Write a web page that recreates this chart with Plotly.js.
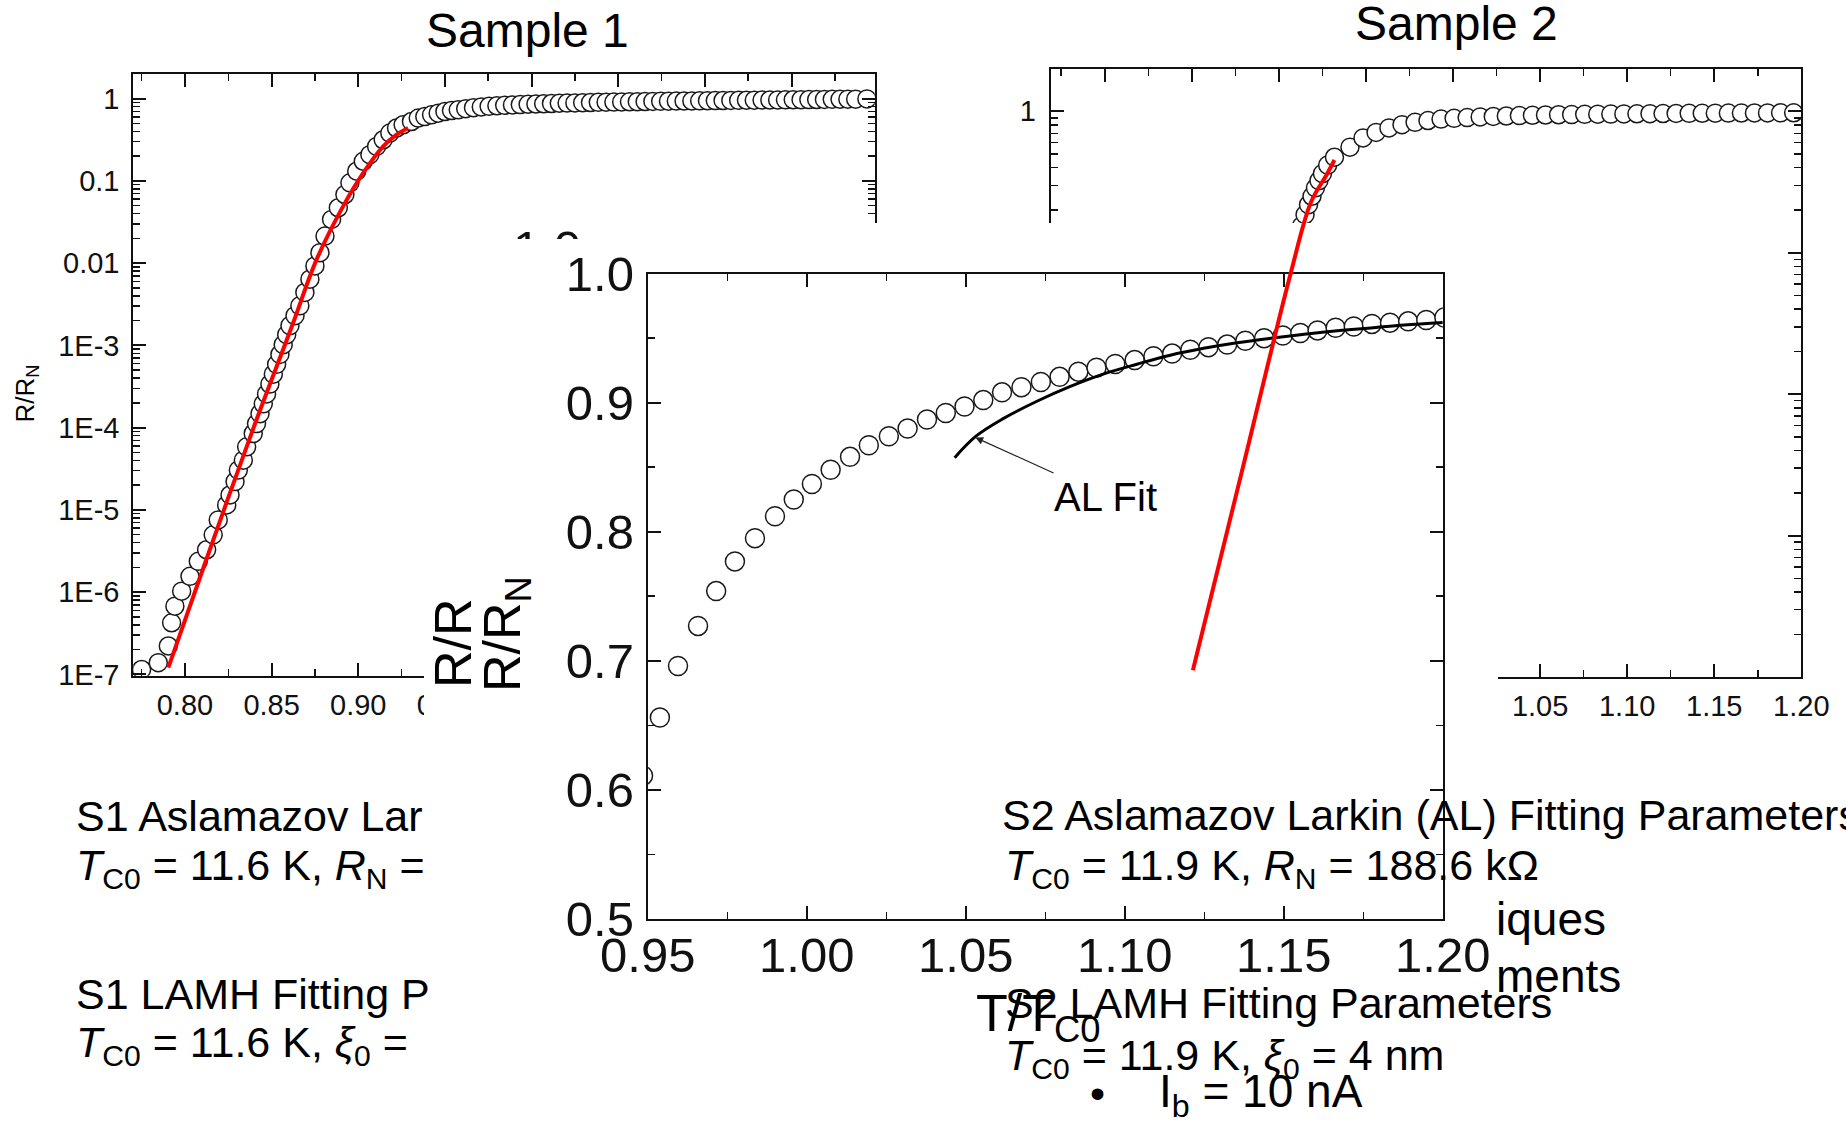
<!DOCTYPE html>
<html>
<head>
<meta charset="utf-8">
<script src="https://cdn.plot.ly/plotly-3.0.1.min.js"></script>
<style>
html,body{margin:0;padding:0;background:#ffffff;}
#chart{width:1846px;height:1122px;}
</style>
</head>
<body>
<div id="chart"></div>
<script>
// ---------------- data ----------------
// Sample 1 : R/RN vs T/TC0 (log scale)
const s1T = [0.7750,0.7846,0.7904,0.7923,0.7942,0.7981,0.8029,0.8077,0.8125,0.8163,0.8192,0.8241,0.8260,0.8289,0.8308,0.8337,0.8356,0.8394,
  0.8413,0.8433,0.8452,0.8471,0.8490,0.8510,0.8529,0.8548,0.8567,0.8587,0.8606,0.8635,0.8663,0.8692,0.8721,0.8750,0.8779,0.8808,0.8846,0.8885,
  0.8923,0.8952,0.8991,0.9029,0.9067,0.9106,0.9144,0.9182,0.9221,0.9259,0.9307,0.9346,0.9384,0.9423,0.9461,0.9500,0.9538,0.9577,
  0.9620,0.9665,0.9710,0.9755,0.9800,0.9845,0.9890,0.9935,0.9980,1.0025,1.0070,1.0115,1.0160,1.0205,1.0250,1.0295,1.0340,1.0385,1.0430,1.0475,
  1.0520,1.0565,1.0610,1.0655,1.0700,1.0745,1.0790,1.0835,1.0880,1.0925,1.0970,1.1015,1.1060,1.1105,1.1150,1.1195,1.1240,1.1285,1.1330,1.1375,
  1.1420,1.1465,1.1510,1.1555,1.1600,1.1645,1.1690,1.1735,1.1780,1.1825,1.1870,1.1935];
const s1R = [1.15e-7,1.39e-7,2.22e-7,4.25e-7,6.76e-7,1.03e-6,1.56e-6,2.37e-6,3.28e-6,4.98e-6,7.57e-6,1.15e-5,1.52e-5,2.21e-5,3.05e-5,4.03e-5,5.85e-5,8.49e-5,
  1.12e-4,1.48e-4,1.95e-4,2.57e-4,3.39e-4,4.47e-4,5.89e-4,7.76e-4,1.02e-3,1.35e-3,1.74e-3,2.30e-3,3.03e-3,4.41e-3,6.38e-3,9.25e-3,1.34e-2,2.13e-2,3.40e-2,4.71e-2,
  6.82e-2,9.46e-2,0.131,0.173,0.208,0.262,0.316,0.381,0.439,0.481,0.527,0.579,0.605,0.635,0.665,0.697,0.716,0.730,
  0.755,0.775,0.792,0.806,0.818,0.829,0.838,0.846,0.853,0.860,0.866,0.872,0.877,0.882,0.887,0.891,0.896,0.900,0.904,0.908,
  0.911,0.915,0.918,0.921,0.924,0.927,0.930,0.933,0.935,0.938,0.940,0.943,0.945,0.948,0.950,0.952,0.955,0.957,0.959,0.961,
  0.963,0.966,0.968,0.970,0.972,0.974,0.977,0.979,0.981,0.983,0.985,0.990];
// Sample 1 LAMH fit (red)
const s1FitT = [0.7904,0.8106,0.8394,0.8615,0.8760,0.8913,0.9029,0.9144,0.9221,0.9288];
const s1FitR = [1.21e-7,1.97e-6,9.75e-5,1.66e-3,1.11e-2,4.93e-2,0.125,0.262,0.364,0.439];

// Sample 2 : R/RN vs T/TC0 (log scale)
const s2T = [0.9110,0.9130,0.9150,0.9170,0.9190,0.9210,0.9230,0.9250,0.9280,0.9319,0.9408,0.9483,0.9558,0.9632,0.9707,0.9782,0.9856,0.9931,
  1.0006,1.0081,1.0156,1.0231,1.0306,1.0381,1.0456,1.0531,1.0606,1.0681,1.0756,1.0831,1.0906,1.0981,1.1056,1.1131,1.1206,1.1281,1.1356,
  1.1431,1.1506,1.1581,1.1656,1.1731,1.1806,1.1881,1.1956];
const s2R = [0.126,0.155,0.186,0.219,0.251,0.288,0.324,0.363,0.417,0.474,0.558,0.649,0.710,0.764,0.805,0.836,0.861,0.881,
  0.893,0.904,0.913,0.920,0.927,0.933,0.938,0.942,0.946,0.949,0.952,0.955,0.957,0.959,0.961,0.963,0.965,0.966,0.968,
  0.969,0.971,0.972,0.973,0.974,0.975,0.976,0.977];
// Sample 2 LAMH fit (red)
const s2FitT = [0.8506,0.8785,0.9064,0.9184,0.9274,0.9319];
const s2FitR = [1.12e-4,2.77e-3,6.89e-2,0.228,0.356,0.453];

// Sample 2 close-up (linear scale) with AL fit
const alT = [0.9485,0.9538,0.9595,0.9658,0.9715,0.9774,0.9837,0.9900,0.9959,1.0016,1.0075,1.0136,1.0195,1.0258,1.0317,1.0378,1.0437,1.0496,
  1.0555,1.0614,1.0675,1.0736,1.0795,1.0854,1.0911,1.0970,1.1031,1.1090,1.1149,1.1206,1.1263,1.1322,1.1379,1.1438,1.1497,1.1552,1.1606,
  1.1663,1.1720,1.1777,1.1834,1.1891,1.1948,1.2005];
const alR = [0.611,0.656,0.696,0.727,0.754,0.777,0.795,0.812,0.825,0.837,0.848,0.858,0.867,0.874,0.880,0.887,0.892,0.897,
  0.902,0.908,0.912,0.916,0.920,0.924,0.927,0.930,0.933,0.936,0.938,0.941,0.943,0.945,0.948,0.950,0.952,0.954,0.956,
  0.958,0.959,0.961,0.962,0.963,0.964,0.966];
const alFitT = [1.0465,1.0532,1.0616,1.0722,1.0827,1.0932,1.1038,1.1143,1.1248,1.1353,1.1459,1.1564,1.1669,1.1774,1.1879,1.2000];
const alFitR = [0.8574,0.8740,0.8874,0.9009,0.9124,0.9221,0.9298,0.9368,0.9421,0.9464,0.9499,0.9530,0.9557,0.9579,0.9602,0.9622];

// tick labels
const s1LogTicks = [1e-7,1e-6,1e-5,1e-4,1e-3,1e-2,1e-1,1];
const s1LogText  = ['1E-7','1E-6','1E-5','1E-4','1E-3','0.01','0.1','1'];
const s2LogTicks = [1e-4,1e-3,1e-2,1e-1,1];
const s2LogText  = ['1E-4','1E-3','0.01','0.1','1'];
const ghostTickVals = [874.5];
const ghostTickText = ['1.0'];

// ---------------- layout helpers ----------------
const W = 1846, H = 1122;
const FONT = 'Liberation Sans, Arial, Helvetica, sans-serif';
const INK = '#111111';

function framed(extra, fsize) {
  return Object.assign({
    showline: true, linecolor: INK, linewidth: 2, mirror: 'ticks',
    ticks: 'inside', ticklen: 13, tickwidth: 2, tickcolor: INK,
    showgrid: false, zeroline: false, fixedrange: true,
    tickfont: {family: FONT, size: fsize, color: INK}
  }, extra);
}
function minor(dtick, tick0) {
  const m = {ticks: 'inside', ticklen: 7, tickwidth: 1.5, tickcolor: INK, showgrid: false, dtick: dtick};
  if (tick0 !== undefined) m.tick0 = tick0;
  return m;
}
function hidden(extra) {
  return Object.assign({visible: false, showgrid: false, zeroline: false, fixedrange: true, range: [0, 1]}, extra);
}
function px(x) { return x / W; }
function py(y) { return 1 - y / H; }
function note(text, x, y, size, xanchor, extra) {
  return Object.assign({
    xref: 'paper', yref: 'paper', x: px(x), y: py(y), text: text, showarrow: false,
    xanchor: xanchor, yanchor: 'middle', font: {family: FONT, size: size, color: '#000'}
  }, extra || {});
}

const xDomS1 = [0.07221, 0.47384], yDomS1 = [0.39777, 0.93449];
const xDomS2 = [0.56923, 0.97579], yDomS2 = [0.39643, 0.93859];
const xDomCover = [0.22969, 0.81148];
const xDomMid = [0.35092, 0.78158], yDomMid = [0.18102, 0.75615];

const circle = (size) => ({symbol: 'circle', size: size, color: '#ffffff', line: {color: '#1a1a1a', width: 1.5}});

const data = [
  {type: 'scatter', mode: 'markers', x: s1T, y: s1R, xaxis: 'x', yaxis: 'y', marker: circle(18), name: 'Sample 1'},
  {type: 'scatter', mode: 'lines', x: s1FitT, y: s1FitR, xaxis: 'x', yaxis: 'y', line: {color: '#ff0000', width: 4, shape: 'spline'}, name: 'S1 LAMH fit'},
  {type: 'scatter', mode: 'markers', x: s2T, y: s2R, xaxis: 'x2', yaxis: 'y2', marker: circle(18), name: 'Sample 2'},
  {type: 'scatter', mode: 'markers', x: [], y: [], xaxis: 'x3', yaxis: 'y3', name: 'cover'},
  {type: 'scatter', mode: 'markers', x: [], y: [], xaxis: 'x4', yaxis: 'y4', name: 'cover2'},
  {type: 'scatter', mode: 'markers', x: alT, y: alR, xaxis: 'x5', yaxis: 'y5', marker: circle(19), name: 'Sample 2 (linear)'},
  {type: 'scatter', mode: 'lines', x: alFitT, y: alFitR, xaxis: 'x5', yaxis: 'y5', line: {color: '#000000', width: 3, shape: 'spline'}, name: 'AL Fit'},
  {type: 'scatter', mode: 'lines', x: s2FitT, y: s2FitR, xaxis: 'x6', yaxis: 'y6', line: {color: '#ff0000', width: 4, shape: 'spline'}, name: 'S2 LAMH fit'}
];

const layout = {
  width: W, height: H,
  margin: {l: 0, r: 0, t: 0, b: 0},
  paper_bgcolor: '#ffffff',
  plot_bgcolor: 'rgba(0,0,0,0)',
  showlegend: false, hovermode: false, dragmode: false,
  font: {family: FONT, color: INK},

  // Sample 1
  xaxis: framed({domain: xDomS1, anchor: 'y', range: [0.7702, 1.198], tick0: 0.8, dtick: 0.05, tickformat: '.2f',
                 minor: minor(0.025, 0.8), ticklabelstandoff: 2}, 29),
  yaxis: framed({domain: yDomS1, anchor: 'x', type: 'log', range: [-7.015, 0.305], tickmode: 'array',
                 tickvals: s1LogTicks, ticktext: s1LogText, minor: minor('D1'), ticklabelstandoff: 6}, 29),
  // Sample 2
  xaxis2: framed({domain: xDomS2, anchor: 'y2', range: [0.769, 1.2], tick0: 0.8, dtick: 0.05, tickformat: '.2f',
                  minor: minor(0.025, 0.8), ticklabelstandoff: 2}, 29),
  yaxis2: framed({domain: yDomS2, anchor: 'x2', type: 'log', range: [-4, 0.3], tickmode: 'array',
                  tickvals: s2LogTicks, ticktext: s2LogText, minor: minor('D1'), ticklabelstandoff: 7}, 29),
  // white cover (pasted panel) with a partially hidden label; y3 in px from page bottom
  xaxis3: hidden({domain: xDomCover, anchor: 'y3'}),
  yaxis3: {domain: [0, 0.83066], anchor: 'x3', range: [0, 932], visible: true, showline: false, ticks: '',
           showgrid: false, zeroline: false, fixedrange: true, tickmode: 'array',
           tickvals: ghostTickVals, ticktext: ghostTickText, ticklabelposition: 'inside', ticklabelstandoff: 86,
           tickfont: {family: FONT, size: 49, color: INK}},
  xaxis4: hidden({domain: xDomCover, anchor: 'y4'}),
  yaxis4: hidden({domain: [0, 0.78699], anchor: 'x4'}),
  // close-up panel
  xaxis5: framed({domain: xDomMid, anchor: 'y5', range: [0.95, 1.2], tick0: 0.95, dtick: 0.05, tickformat: '.2f',
                  minor: minor(0.025, 0.95), ticklabelstandoff: -8}, 49),
  yaxis5: framed({domain: yDomMid, anchor: 'x5', range: [0.5, 1.0], tick0: 0.5, dtick: 0.1, tickformat: '.1f',
                  minor: minor(0.05, 0.5), ticklabelstandoff: 2}, 49),
  // overlay for Sample 2 fit drawn on top
  xaxis6: hidden({domain: xDomS2, anchor: 'y6', range: [0.769, 1.2]}),
  yaxis6: hidden({domain: yDomS2, anchor: 'x6', type: 'log', range: [-4, 0.3]}),

  shapes: [
    {type: 'rect', layer: 'below', xref: 'x3', yref: 'y3', x0: 0, x1: 1, y0: 0, y1: 899, fillcolor: '#ffffff', line: {width: 0}},
    {type: 'rect', layer: 'below', xref: 'x4', yref: 'y4', x0: 0, x1: 1, y0: 0, y1: 1, fillcolor: '#ffffff', line: {width: 0}}
  ],

  annotations: [
    note('Sample 1', 527, 31, 48, 'center'),
    note('Sample 2', 1456.6, 24, 48, 'center'),
    note('R/R<sub>N</sub>', 26, 393.5, 26, 'center', {textangle: -90}),
    note('R/R', 453, 643, 52, 'center', {textangle: -90}),
    note('R/R<sub>N</sub>', 506, 634, 52, 'center', {textangle: -90}),
    note('T/T<sub>C0</sub>', 1038, 1017, 52, 'center'),

    note('S1 Aslamazov Lar', 74, 816, 43, 'left'),
    note('<i>T</i><sub>C0</sub> = 11.6 K, <i>R</i><sub>N</sub> =', 74, 867.5, 43, 'left'),
    note('S1 LAMH Fitting P', 74, 994, 43, 'left'),
    note('<i>T</i><sub>C0</sub> = 11.6 K, <i>ξ</i><sub>0</sub> =', 74, 1044.5, 43, 'left'),

    note('S2 Aslamazov Larkin (AL) Fitting Parameters', 1000, 815, 43, 'left'),
    note('<i>T</i><sub>C0</sub> = 11.9 K, <i>R</i><sub>N</sub> = 188.6 kΩ', 1003, 867.5, 43, 'left'),
    note('S2 LAMH Fitting Parameters', 1003, 1003, 43, 'left'),
    note('<i>T</i><sub>C0</sub> = 11.9 K, <i>ξ</i><sub>0</sub> = 4 nm', 1003, 1057.5, 43, 'left'),
    note('•', 1097, 1093, 43, 'center'),
    note('I<sub>b</sub> = 10 nA', 1157, 1094.5, 46, 'left'),
    note('iques', 1494, 919, 46, 'left'),
    note('ments', 1494, 976, 46, 'left'),

    {xref: 'x5', yref: 'y5', x: 1.053, y: 0.873, text: 'AL Fit', showarrow: true,
     ax: 130, ay: 59, axref: 'pixel', ayref: 'pixel',
     arrowhead: 2, arrowsize: 1.3, arrowwidth: 1.2, arrowcolor: '#222',
     font: {family: FONT, size: 40, color: '#000'}}
  ]
};

Plotly.newPlot('chart', data, layout, {staticPlot: true, displayModeBar: false});
</script>
</body>
</html>
